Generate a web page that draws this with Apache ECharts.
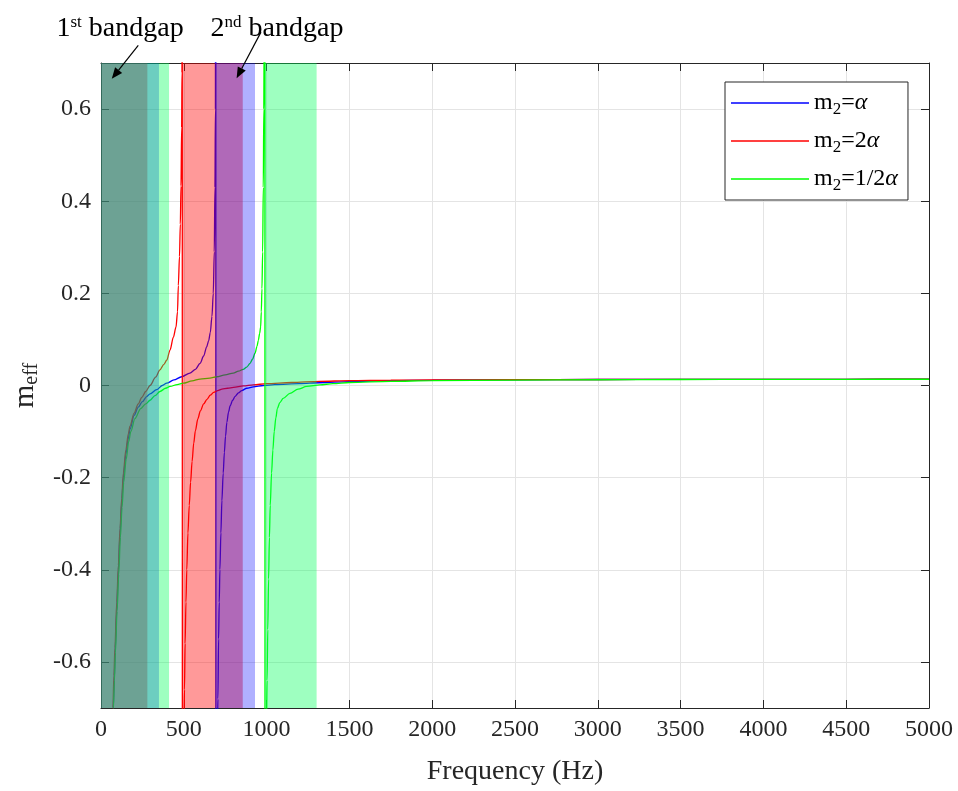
<!DOCTYPE html>
<html><head><meta charset="utf-8">
<script src="https://cdn.jsdelivr.net/npm/echarts@6/dist/echarts.min.js"></script>
<style>html,body{margin:0;padding:0;background:#fff}#c{width:958px;height:791px}</style>
</head><body><div id="c"></div>
<script>
// ---------------- data ----------------
const seriesNames = ['m2=α', 'm2=2α', 'm2=1/2α'];
const seriesColors = ['#0000ff', '#ff0000', '#00ff00'];

const blueFreq = [40,74,80,85,95,105,115,125,135,150,165,175,200,225,250,276,296,336,370,397,440,487,537,570,598,620,638,650,660,670,678,684,688,691,693,
  694,703,706,710,714,718,724,730,738,745,752,760,770,780,795,809,830,850,880,920,980,1050,1200,1320,1500,1750,2000,2500,3000,3500,4000,4500,5000];
const blueVal = [-3,-0.70,-0.64,-0.58,-0.49,-0.40,-0.32,-0.255,-0.20,-0.15,-0.115,-0.095,-0.065,-0.047,-0.035,-0.024,-0.018,-0.009,0.0,0.005,0.012,0.019,0.027,0.035,0.048,0.064,0.084,0.097,0.115,0.15,0.2,0.29,0.43,0.6,3,
  -3,-0.75,-0.68,-0.55,-0.47,-0.40,-0.32,-0.25,-0.19,-0.145,-0.11,-0.08,-0.058,-0.044,-0.032,-0.024,-0.016,-0.011,-0.006,-0.003,0.0,0.002,0.004,0.006,0.0085,0.0105,0.0115,0.0125,0.013,0.0132,0.0134,0.0135,0.0136];

const redFreq = [40,72,78,84,95,105,115,125,135,150,165,175,200,225,246,270,296,330,356,380,397,417,437,453,462,467,474,479,483,487,489,490,
  492,501,504,508,513,518,525,533,541,550,560,570,585,600,620,640,660,680,705,730,765,800,860,920,1000,1150,1320,1500,1750,2000,2500,3000,3500,4000,4500,5000];
const redVal = [-3,-0.70,-0.63,-0.57,-0.47,-0.39,-0.31,-0.245,-0.19,-0.14,-0.105,-0.088,-0.06,-0.04,-0.026,-0.013,0.0,0.018,0.034,0.046,0.055,0.077,0.105,0.127,0.16,0.217,0.28,0.35,0.433,0.56,0.68,3,
  -3,-0.75,-0.66,-0.56,-0.47,-0.40,-0.32,-0.26,-0.21,-0.165,-0.125,-0.098,-0.072,-0.055,-0.04,-0.03,-0.021,-0.015,-0.011,-0.008,-0.006,-0.004,-0.001,0.0015,0.004,0.0065,0.009,0.0105,0.0115,0.012,0.0127,0.013,0.0132,0.0134,0.0135,0.0136];

const greenFreq = [40,75,81,87,97,107,117,127,137,152,167,180,205,240,270,296,326,356,390,417,460,497,550,598,658,699,750,799,830,859,880,900,915,930,942,950,958,964,968,972,976,980,983,985,989,
  991,999,1003,1007,1012,1017,1022,1030,1038,1046,1056,1065,1080,1100,1141,1190,1242,1322,1400,1500,1750,2000,2500,3000,3500,4000,4500,5000];
const greenVal = [-3,-0.70,-0.64,-0.58,-0.49,-0.41,-0.33,-0.265,-0.21,-0.16,-0.122,-0.1,-0.072,-0.05,-0.04,-0.032,-0.022,-0.013,-0.006,-0.002,0.002,0.005,0.01,0.014,0.016,0.019,0.023,0.027,0.031,0.035,0.04,0.048,0.057,0.07,0.085,0.098,0.113,0.127,0.16,0.21,0.29,0.43,0.6,0.75,3,
  -3,-0.75,-0.64,-0.53,-0.42,-0.33,-0.26,-0.19,-0.14,-0.1,-0.07,-0.05,-0.037,-0.028,-0.017,-0.008,-0.002,0.0015,0.004,0.0065,0.009,0.0105,0.0118,0.0125,0.013,0.0133,0.0135,0.0136];

// bandgaps [start Hz, end Hz]
const bandRed = [[0, 280], [491, 856]];
const bandBlue = [[0, 350], [693, 930]];
const bandGreen = [[0, 411], [990, 1302]];
const bandColors = ['rgba(255,0,0,0.4)', 'rgba(0,0,255,0.31)', 'rgba(0,255,90,0.38)'];

const xMin = 0, xMax = 5000, xStep = 500;
const yMin = -0.7, yMax = 0.7;

// annotations: [text, text anchor (Hz, m), arrow tail (Hz, m), arrow head (Hz, m)]
const annotations = [
  ['1{sup|st} bandgap', [115, 0.775], [225, 0.738], [65, 0.666]],
  ['2{sup|nd} bandgap', [1063, 0.775], [966, 0.767], [819, 0.667]]
];

// ---------------- chart ----------------
const FONT = 'Liberation Serif';
const AX = '#262626';
const chart = echarts.init(document.getElementById('c'), null, {renderer: 'canvas'});

function pairs(f, v) { return f.map((x, i) => [x, v[i]]); }

function bandSeries(name, bands, color, z) {
  return {
    name: name, type: 'custom', z: z, silent: true, clip: true,
    xAxisIndex: 0, yAxisIndex: 0,
    data: bands,
    renderItem: function (params, api) {
      const p0 = api.coord([api.value(0), yMax]);
      const p1 = api.coord([api.value(1), yMin]);
      return {
        type: 'rect',
        shape: {x: p0[0], y: p0[1], width: p1[0] - p0[0], height: p1[1] - p0[1]},
        style: {fill: color}
      };
    }
  };
}

const lineData = [pairs(blueFreq, blueVal), pairs(redFreq, redVal), pairs(greenFreq, greenVal)];

const axisCommonX = {
  type: 'value', min: xMin, max: xMax, interval: xStep,
  axisLine: {show: true, onZero: false, lineStyle: {color: AX, width: 1}},
  axisTick: {show: true, inside: true, length: 8, lineStyle: {color: AX}},
};
const axisCommonY = {
  type: 'value', min: yMin, max: yMax, splitNumber: 7,
  axisLine: {show: true, onZero: false, lineStyle: {color: AX, width: 1}},
  axisTick: {show: true, inside: true, length: 8, lineStyle: {color: AX}},
};

const option = {
  animation: false,
  backgroundColor: '#fff',
  grid: {left: 101, right: 29, top: 63, bottom: 77, containLabel: false},
  xAxis: [
    Object.assign({}, axisCommonX, {
      position: 'bottom',
      axisLabel: {color: AX, fontFamily: FONT, fontSize: 24, margin: 10, formatter: v => String(v)},
      splitLine: {show: true, lineStyle: {color: '#e4e4e4', width: 1}},
      name: 'Frequency (Hz)', nameLocation: 'middle', nameGap: 50,
      nameTextStyle: {color: AX, fontFamily: FONT, fontSize: 28}
    }),
    Object.assign({}, axisCommonX, {
      position: 'top', axisLabel: {show: false}, splitLine: {show: false}
    })
  ],
  yAxis: [
    Object.assign({}, axisCommonY, {
      position: 'left',
      axisLabel: {color: AX, fontFamily: FONT, fontSize: 24, margin: 10, showMinLabel: false, showMaxLabel: false},
      splitLine: {show: true, lineStyle: {color: '#e4e4e4', width: 1}},
      name: 'm{sub|eff}', nameLocation: 'middle', nameGap: 56, nameRotate: 90,
      nameTextStyle: {color: AX, fontFamily: FONT, fontSize: 30,
        rich: {sub: {fontFamily: FONT, fontSize: 20, color: AX, verticalAlign: 'bottom', padding: [14, 0, 0, 0]}}}
    }),
    Object.assign({}, axisCommonY, {
      position: 'right', axisLabel: {show: false}, splitLine: {show: false}
    })
  ],
  legend: {
    data: seriesNames.map((n, i) => ({name: n, icon: 'rect', itemStyle: {color: seriesColors[i]}})),
    orient: 'vertical', left: 725, top: 82,
    backgroundColor: '#fff', borderColor: AX, borderWidth: 1, borderRadius: 0,
    padding: [6, 10, 6, 6],
    itemWidth: 78, itemHeight: 1.6, itemGap: 8,
    formatter: function (name) {
      return 'm{sub|2}=' + name.slice(3).replace('α', '{it|α}');
    },
    textStyle: {
      fontFamily: FONT, fontSize: 24, color: '#000', lineHeight: 30,
      rich: {
        sub: {fontFamily: FONT, fontSize: 17, color: '#000', verticalAlign: 'bottom', lineHeight: 30, padding: [10, 0, 0, 0]},
        it: {fontFamily: FONT, fontSize: 24, fontStyle: 'italic', color: '#000', lineHeight: 30}
      }
    }
  },
  series: seriesNames.map((n, i) => ({
    name: n, type: 'line', data: lineData[i], z: 2,
    showSymbol: false, symbol: 'none', clip: true,
    smooth: 0.3, smoothMonotone: 'x',
    xAxisIndex: 0, yAxisIndex: 0,
    lineStyle: {color: seriesColors[i], width: 1.3},
    itemStyle: {color: seriesColors[i]}
  })).concat([
    bandSeries('bandRed', bandRed, bandColors[0], 3),
    bandSeries('bandBlue', bandBlue, bandColors[1], 4),
    bandSeries('bandGreen', bandGreen, bandColors[2], 5)
  ])
};
chart.setOption(option);

// annotations positioned through the chart's own coordinate conversion
const graphics = [];
annotations.forEach(a => {
  const t = chart.convertToPixel({gridIndex: 0}, a[1]);
  const p0 = chart.convertToPixel({gridIndex: 0}, a[2]);
  const p1 = chart.convertToPixel({gridIndex: 0}, a[3]);
  graphics.push({
    type: 'text', x: t[0], y: t[1], z: 20,
    style: {
      text: a[0], fill: '#000', font: '28px "Liberation Serif"',
      align: 'center', verticalAlign: 'middle',
      rich: {sup: {font: '17px "Liberation Serif"', fill: '#000', verticalAlign: 'top', padding: [0, 0, 12, 0]}}
    }
  });
  const dx = p1[0] - p0[0], dy = p1[1] - p0[1];
  const L = Math.sqrt(dx * dx + dy * dy), ux = dx / L, uy = dy / L;
  const hl = 11, hw = 4.5;
  const bx = p1[0] - ux * hl, by = p1[1] - uy * hl;
  graphics.push({
    type: 'line', z: 20,
    shape: {x1: p0[0], y1: p0[1], x2: bx, y2: by},
    style: {stroke: '#000', lineWidth: 1.2}
  });
  graphics.push({
    type: 'polygon', z: 20,
    shape: {points: [[p1[0], p1[1]], [bx - uy * hw, by + ux * hw], [bx + uy * hw, by - ux * hw]]},
    style: {fill: '#000'}
  });
});
chart.setOption({graphic: graphics});
</script></body></html>
